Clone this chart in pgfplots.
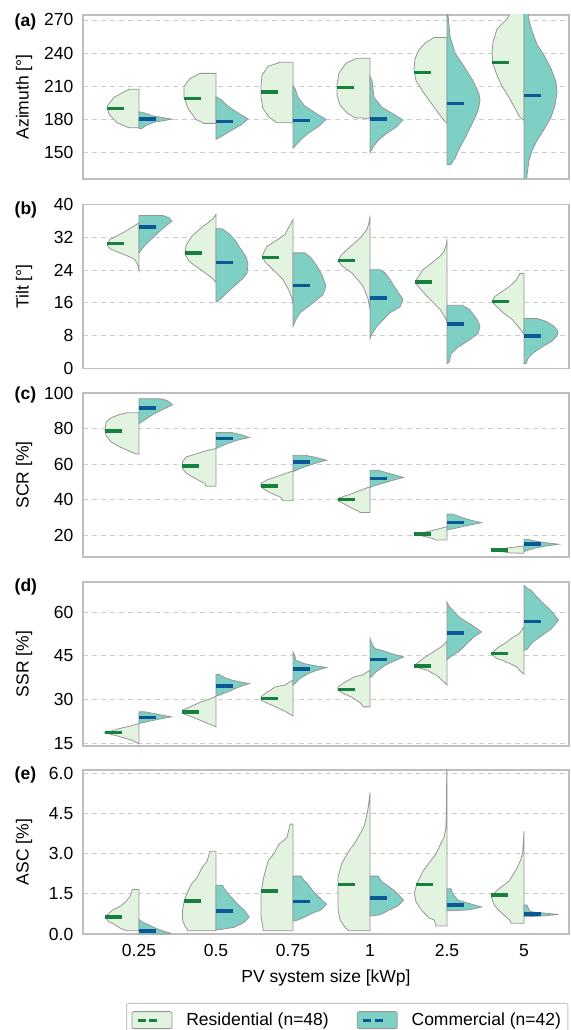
\documentclass[border=0pt]{standalone}
\usepackage{fontspec}
\setmainfont{Liberation Sans}
\usepackage{pgfplots}
\pgfplotsset{compat=1.18}

\definecolor{resfill}{RGB}{226,244,223}
\definecolor{comfill}{RGB}{126,208,197}
\definecolor{resline}{RGB}{22,128,62}
\definecolor{comline}{RGB}{12,88,148}
\definecolor{edge}{RGB}{150,150,150}
\definecolor{frame}{RGB}{190,190,190}

\pgfplotsset{
  panel/.style={
    scale only axis, width=486pt, height=164pt,
    xmin=-0.727, xmax=5.584,
    xtick={0,1,2,3,4,5}, xticklabels={},
    major tick length=0pt, tick style={draw=none},
    axis line style={draw=frame, line width=1.2pt},
    ymajorgrids,
    grid style={dash pattern=on 5pt off 4pt, draw=gray!40, line width=0.8pt},
    yticklabel style={anchor=east, inner sep=0pt, xshift=-9.5pt},
    xticklabel style={anchor=north, inner sep=0pt, yshift=-10pt},
    every axis y label/.style={at={(axis description cs:-0.1214,0.5)}, rotate=90, anchor=center},
  },
  violin/.style={draw=edge, line width=0.8pt},
  mline/.style={line width=3.5pt, dash pattern=on 17pt off 300pt},
}

% half violins: outline points are (half-width in px, value); 77 px = one category
\newcommand\res[4]{% category, median half-width, median, outline
  \addplot[violin, fill=resfill, x filter/.expression={#1-x/77}] coordinates {#4} -- cycle;
  \addplot[resline, mline, x filter/.expression={#1-x/77}] coordinates {(#2,#3) (0,#3)};
}
\newcommand\com[3]{% category, median, outline
  \addplot[violin, fill=comfill, x filter/.expression={#1+x/77}] coordinates {#3} -- cycle;
  \addplot[comline, mline, x filter/.expression={#1+x/77}] coordinates {(0,#2) (17,#2)};
}

\begin{document}
\fontsize{17.5}{21}\selectfont
\begin{tikzpicture}[x=1pt,y=1pt]
\path[use as bounding box] (0,0) rectangle (570,1030);

% (a) Azimuth
\begin{axis}[panel, at={(83pt,1015pt)}, anchor=north west,
  ymin=126.2, ymax=274.5, ytick={150,180,210,240,270},
  yticklabels={150,180,210,240,270}, ylabel={Azimuth [°]}]
\res{0}{32}{190}{(0,207.3) (10,207.3) (25,200) (32,192) (30,185) (22,177) (10,172.5) (0,172.5)}
\com{0}{180.4}{(0,187) (5,186) (15,183) (25,181.5) (33,180.3) (25,179) (15,177.5) (8,175) (3,172) (0,171.5)}
\res{1}{32}{199.1}{(0,221.7) (16,221.7) (26,217) (32,210) (32,200) (28,190) (20,180) (12,176.5) (0,176.5)}
\com{1}{178}{(0,200.6) (5,198) (12,192) (22,186) (32,180.5) (25,175) (15,170) (6,165) (0,162)}
\res{2}{32}{205}{(0,231.7) (13,231.7) (25,228) (31,220) (32,210) (32,200) (30,190) (24,182) (16,177) (0,177)}
\com{2}{179}{(0,210) (2,208) (5,200) (12,192) (24,185) (33,180) (26,174) (16,168) (8,162) (3,157) (0,154)}
\res{3}{33}{209}{(0,235.3) (13,235.3) (24,231) (31,222) (33,212) (33,202) (30,193) (23,186) (15,181.5) (0,181)}
\com{3}{180.4}{(0,219) (2,215) (4,200) (12,191) (25,184) (33,179.5) (26,173) (16,167) (8,161) (3,155) (0,150)}
\res{4}{33}{222.3}{(0,254.2) (13,254.2) (22,249) (28,243) (32,235) (33,225) (31,215) (24,205) (16,195) (8,185) (2,178) (0,176.5)}
\com{4}{194.5}{(0,280) (1.5,270) (3,255) (8,240) (17,228) (26,215) (32,203) (33,197) (31,188) (26,178) (19,165) (13,155) (8,145) (4,139.5) (0,139)}
\res{5}{32}{231.7}{(0,280) (12,280) (17,271) (27,262) (31,250) (32,240) (31,230) (27,220) (22,210) (15,200) (9,190) (4,182) (0,179)}
\com{5}{201.5}{(0,280) (4,280) (5,270) (8,260) (13,248) (20,238) (27,226) (32,214) (33,205) (31,193) (27,182) (20,171) (13,161) (8,152) (5,143) (3,130) (2,120) (0,120)}
\end{axis}

% (b) Tilt
\begin{axis}[panel, at={(83pt,825.5pt)}, anchor=north west,
  ymin=0, ymax=40, ytick={0,8,16,24,32,40},
  yticklabels={0,8,16,24,32,40}, ylabel={Tilt [°]}]
\res{0}{32}{30.5}{(0,35.5) (8,34.3) (16,33.1) (29,31.5) (32,30.2) (29,29.2) (20,28.3) (12,27.5) (4,26.6) (1,25) (0,24)}
\com{0}{34.5}{(0,37.3) (24,37.3) (30,36.8) (33,35.9) (28,35) (20,33.3) (12,31.5) (5,29.8) (0,28.2)}
\res{1}{31}{28.2}{(0,37.6) (3,36.5) (8,35.5) (13,34.7) (24,32.3) (30,30) (31,28) (28,26.5) (23,25.4) (13,23.7) (4,22.1) (0,21)}
\com{1}{25.8}{(0,34.1) (6,34.1) (14,32.7) (20,31) (24,29.4) (30,27.3) (32,25.5) (31,23.2) (27,22) (22,20.9) (11,18.5) (4,16.8) (0,16.2)}
\res{2}{31}{27.1}{(0,36.3) (3,35) (8,32.7) (18,31) (26,29.8) (31,27.4) (28,26) (20,24.1) (10,21.7) (4,19) (1,17) (0,15.6)}
\com{2}{20.2}{(0,28.2) (12,28.2) (18,27) (24,25) (29,22.8) (33,20.1) (30,18) (20,16) (7,13.6) (3,12) (0,10.3)}
\res{3}{32}{26.3}{(0,37.3) (1,35.5) (3,34) (8,32.3) (15,30.7) (23,29) (29,27.6) (32,26.2) (28,25) (18,23.3) (7,20.1) (2,17) (0,14.4)}
\com{3}{17.2}{(0,24.1) (10,24.1) (15,23.3) (20,21.7) (27,19) (33,16.8) (30,15) (20,13.6) (7,10.3) (2,8.5) (0,7.3)}
\res{4}{32}{21.1}{(0,31.5) (1,30) (3,28.5) (7,27.4) (15,25.8) (24,24.1) (32,21.1) (27,19.5) (20,17.6) (7,14.4) (2,12.5) (0,11.3)}
\com{4}{10.9}{(0,15.4) (15,15.4) (22,14.5) (25,13.6) (30,12) (33,10.3) (31,8.5) (23,7.1) (10,5) (4,3.5) (2,1.5) (0,1.2)}
\res{5}{32}{16.3}{(0,23.2) (4,23.2) (8,21.5) (14,20.1) (22,18.8) (29,17.6) (32,16.3) (27,15) (21,13.6) (12,12) (6,10.3) (2,9) (0,8.3)}
\com{5}{7.9}{(0,12.2) (13,12.2) (22,11.5) (30,10.3) (34,9) (33,7.9) (27,6.5) (19,5.4) (9,3.8) (4,2.5) (2,1.2) (0,1.2)}
\end{axis}

% (c) SCR
\begin{axis}[panel, at={(83pt,637pt)}, anchor=north west,
  ymin=7.6, ymax=100, ytick={20,40,60,80,100},
  yticklabels={20,40,60,80,100}, ylabel={SCR [\%]}]
\res{0}{33.8}{78.6}{(0,88.9) (12,88.9) (20,87.8) (28,86) (33,83.5) (34,79) (33,76) (28,72.5) (19,69.6) (8,66.8) (3,65.8) (0,65.5)}
\com{0}{91.5}{(0,96.8) (21,96.8) (28,95.8) (33.5,93.4) (25,91) (15,88.3) (6,85) (0,82.7)}
\res{1}{33.5}{59}{(0,68.7) (6,68) (13.5,66.8) (22,65.3) (29.8,64) (33.5,61.2) (33.5,57.5) (30,55) (26,53.5) (18,51) (11,49) (10,47.5) (0,47.5)}
\com{1}{74.3}{(0,77.7) (16,77.7) (25,76.5) (33.3,74.9) (22,73.5) (12,71.6) (5,70) (0,68.7)}
\res{2}{32}{47.5}{(0,56.1) (8,54.5) (17.5,52.7) (26,51) (32,49) (32,47.2) (28,45.5) (24.7,44.3) (12,41.2) (10,39.3) (0,39.3)}
\com{2}{61.2}{(0,64.9) (12,64.9) (22,63.8) (33.5,62.1) (22,60.3) (12,58.5) (5,57) (0,55.6)}
\res{3}{32}{40}{(0,47.2) (8,45.5) (17.5,43.4) (26,41.8) (32,40.6) (32,39.3) (26,37.5) (21,35.9) (12,33.5) (10,32.7) (0,32.7)}
\com{3}{51.8}{(0,56.5) (8,56.5) (16,55.2) (25,53.8) (33.5,52.4) (22,50.7) (12,49) (5,47.8) (0,46.8)}
\res{4}{32.7}{20.6}{(0,24.7) (10,23.2) (18,22) (28,21) (32.7,20.6) (25,19.5) (14,18) (12,17.2) (0,17.2)}
\com{4}{26.9}{(0,31.8) (5.5,31.8) (14,30) (24,28.3) (34.5,26.9) (22,25.5) (10,24) (3,23.2) (0,22.8)}
\res{5}{32.7}{11.6}{(0,13.8) (12,13) (22,12.3) (32.7,11.6) (22,10.6) (14,9.9) (0,9.7)}
\com{5}{14.8}{(0,17.6) (4,17.5) (12,16.5) (22,15.6) (34.5,14.8) (22,13.8) (10,12.5) (3,11.3) (0,10.6)}
\end{axis}

% (d) SSR
\begin{axis}[panel, at={(83pt,448pt)}, anchor=north west,
  ymin=14.1, ymax=70.3, ytick={15,30,45,60},
  yticklabels={15,30,45,60}, ylabel={SSR [\%]}]
\res{0}{33.8}{18.7}{(0,21.8) (8,21) (19.3,20.1) (27,19.3) (33.8,18.7) (27,18) (19.3,17.3) (8,16.2) (2,15.2) (0,14.8)}
\com{0}{23.8}{(0,25.8) (6,25.8) (15,25.2) (24,24.6) (32.4,24.1) (20,23.3) (8,22.4) (0,21.8)}
\res{1}{33.5}{25.8}{(0,31.2) (6,30.2) (15,29.2) (26,27.5) (33.5,26.4) (33.5,25.3) (20.7,23.6) (8,21.8) (2,21) (0,20.7)}
\com{1}{34.7}{(0,38.6) (3,38.6) (9,37.5) (15.6,36.7) (25,36) (33.3,35.5) (22,34.2) (12,32.7) (4,31.6) (0,31.2)}
\res{2}{32}{30.4}{(0,36.7) (8,35) (17.5,34.4) (26,32.5) (32,31) (32,29.8) (24,28.5) (17.5,27.5) (8,26) (2,24.8) (0,24.4)}
\com{2}{40.4}{(0,46.3) (2,45) (2.5,43.5) (11.6,42.3) (22,41.6) (33.5,41) (22,39.8) (15,38.9) (6,37) (2,35.5) (0,35)}
\res{3}{32}{33.5}{(0,40.1) (7,38.5) (15.6,37.8) (25,36) (32,34.4) (32,33.2) (25,31.8) (19.3,31) (10,29) (6.5,27.5) (0,27.5)}
\com{3}{43.8}{(0,50.9) (2,49) (5,47.5) (11.6,46.9) (22,45.7) (33.5,44.6) (22,42.9) (15.3,41.8) (6,39.5) (2,38) (0,37.6)}
\res{4}{32.7}{41.5}{(0,50.1) (4,48.5) (11,46.9) (21.8,44.6) (30,42.5) (32.7,41.5) (25,40.5) (20,40.1) (10,38.2) (3,36) (0,35)}
\com{4}{52.8}{(0,63.4) (2,62) (5.5,60.7) (10,59) (14.5,57.7) (25,55.5) (34.5,53.2) (27,51.5) (20,49.2) (12,46.5) (5.5,45.2) (0,43.7)}
\res{5}{32.7}{45.8}{(0,54.9) (5,52.5) (11,51.4) (18,49.5) (25.5,48) (32.7,45.8) (28,44.2) (21.8,43.5) (12,42) (7.3,41.2) (3,39.5) (0,38.7)}
\com{5}{56.8}{(0,69.1) (3,68.2) (7.3,67.4) (12,65.5) (18,63.4) (27,60.5) (34.5,57.2) (27,54.2) (18,52) (8,49.5) (3,47.2) (0,46.9)}
\end{axis}

% (e) ASC
\begin{axis}[panel, at={(83pt,260pt)}, anchor=north west,
  ymin=0, ymax=6.12, ytick={0,1.5,3,4.5,6},
  yticklabels={0.0,1.5,3.0,4.5,6.0}, ylabel={ASC [\%]},
  xticklabels={0.25,0.5,0.75,1,2.5,5},
  xlabel={PV system size [kWp]},
  every axis x label/.style={at={(axis description cs:0.5,-0.268)}, anchor=center},
  legend columns=2,
  legend style={at={(0.0885,-0.4207)}, anchor=north west, draw=gray!45, line width=1pt,
    rounded corners=2pt, inner xsep=5pt, inner ysep=7pt,
    /tikz/every odd column/.append style={column sep=12pt},
    /tikz/every even column/.append style={column sep=26pt}},
]
\addlegendimage{legend image code/.code={
  \draw[edge, fill=resfill, line width=0.8pt] (0pt,-8.5pt) rectangle (40pt,8.5pt);
  \draw[resline, line width=3pt] (6pt,0pt) -- (14pt,0pt) (17.5pt,0pt) -- (25.5pt,0pt);}}
\addlegendentry{Residential (n=48)}
\addlegendimage{legend image code/.code={
  \draw[edge, fill=comfill, line width=0.8pt] (0pt,-8.5pt) rectangle (40pt,8.5pt);
  \draw[comline, line width=3pt] (6pt,0pt) -- (14pt,0pt) (17.5pt,0pt) -- (25.5pt,0pt);}}
\addlegendentry{Commercial (n=42)}
\res{0}{33.8}{0.64}{(0,1.66) (6.5,1.66) (9,1.4) (12,1.26) (18,1.05) (26.5,0.89) (33.8,0.64) (30,0.45) (26.5,0.4) (18,0.2) (12,0.12) (0,0.12)}
\com{0}{0.11}{(0,0.54) (3,0.45) (8,0.37) (17,0.21) (25,0.1) (31.6,0.03) (31.6,0) (0,0)}
\res{1}{31.6}{1.24}{(0,3.09) (6,3.09) (9,2.7) (13.5,2.5) (19,2.1) (24.4,1.87) (28,1.6) (31.6,1.26) (33.5,0.89) (33.5,0.52) (31,0.3) (28,0.12) (0,0.12)}
\com{1}{0.85}{(0,1.82) (6.5,1.82) (9,1.65) (12,1.51) (21,1.14) (28,0.9) (33.1,0.64) (30,0.5) (26.5,0.4) (18,0.25) (5,0.17) (0,0.17)}
\res{2}{32}{1.61}{(0,4.1) (3,4.1) (6,3.6) (13.8,3.36) (19,3.0) (24.7,2.74) (28,2.3) (30,2.0) (32,1.5) (32,0.64) (30,0.2) (30,0.12) (0,0.12)}
\com{2}{1.22}{(0,2.16) (8,2.16) (11,2.0) (14.5,1.88) (20,1.6) (26,1.38) (33.5,1.11) (28,0.9) (19,0.77) (10,0.6) (3,0.5) (0,0.49)}
\res{3}{32}{1.84}{(0,5.28) (1.5,4.8) (3,4.47) (6,4.0) (10,3.73) (15,3.4) (21,3.11) (28.4,2.62) (32,2.12) (32,0.9) (30,0.52) (24,0.2) (21,0.12) (0,0.12)}
\com{3}{1.35}{(0,2.16) (8,2.16) (12,1.95) (17,1.82) (25,1.6) (30,1.4) (33.5,1.26) (28,1.05) (19,0.89) (10,0.72) (0,0.67)}
\res{4}{31}{1.85}{(0,6.2) (0.3,6.0) (0.5,5) (1,4) (3,3.6) (6,3.4) (11,2.99) (17,2.7) (23.6,2.37) (30,1.9) (32.7,1.51) (31,1.2) (25.5,0.89) (18,0.6) (12.7,0.52) (11,0.3) (0,0.3)}
\com{4}{1.08}{(0,1.69) (4,1.69) (5.5,1.51) (11,1.26) (22,1.14) (28,1.08) (34.5,1.01) (28,0.95) (22,0.9) (10,0.88) (0,0.87)}
\res{5}{32.7}{1.45}{(0,3.86) (0.5,3.5) (1.5,3.0) (3.6,2.74) (8,2.4) (14.5,2.0) (21,1.8) (27,1.63) (32.7,1.38) (30,1.1) (25.5,0.89) (14.5,0.52) (12.7,0.4) (0,0.4)}
\com{5}{0.74}{(0,1.08) (3,1.08) (5,0.9) (7.3,0.83) (20,0.78) (34.5,0.73) (20,0.68) (7,0.65) (0,0.64)}
\end{axis}

% panel letters
\node[anchor=west, inner sep=0pt, font=\bfseries] at (14.5,1008.3) {(a)};
\node[anchor=west, inner sep=0pt, font=\bfseries] at (14.5,820) {(b)};
\node[anchor=west, inner sep=0pt, font=\bfseries] at (14.5,635) {(c)};
\node[anchor=west, inner sep=0pt, font=\bfseries] at (14.5,443.3) {(d)};
\node[anchor=west, inner sep=0pt, font=\bfseries] at (14.5,255) {(e)};
\end{tikzpicture}
\end{document}
